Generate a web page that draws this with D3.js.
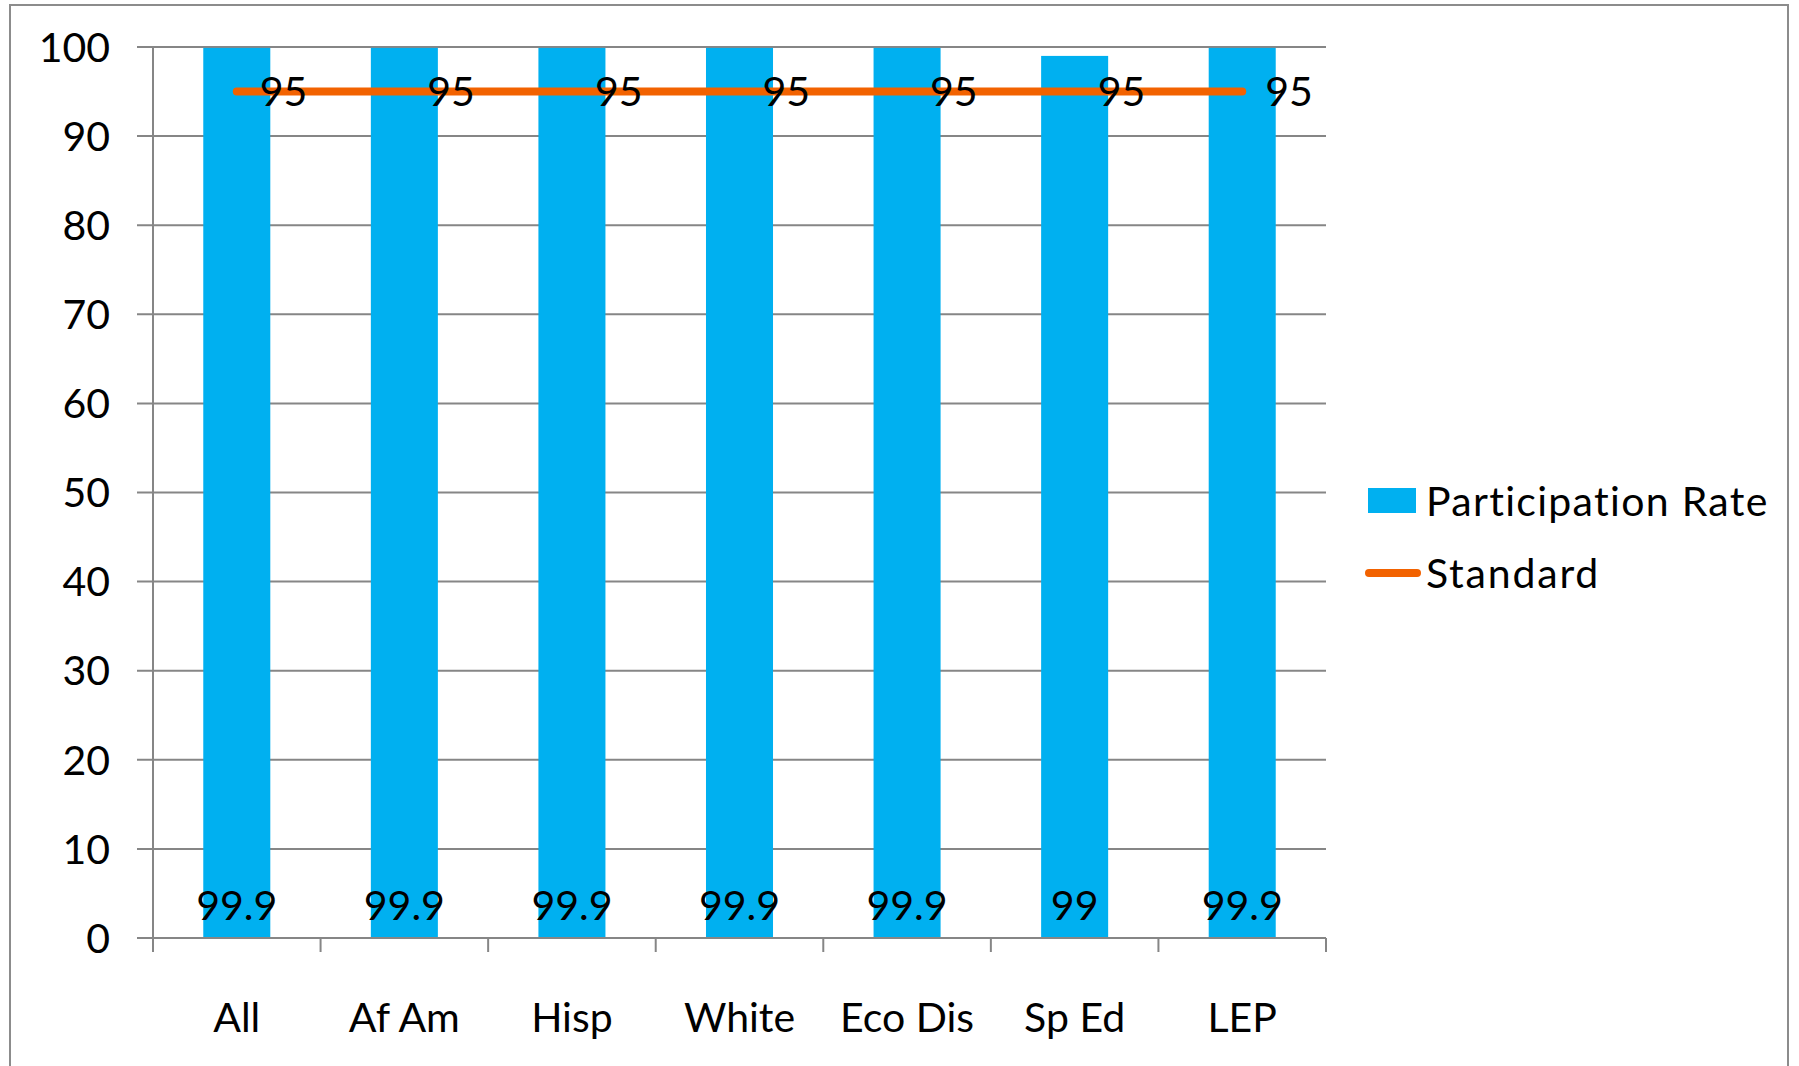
<!DOCTYPE html>
<html>
<head>
<meta charset="utf-8">
<script src="https://cdn.jsdelivr.net/npm/d3@7"></script>
<style>
  body { margin: 0; background: #fff; }
  svg text { font-family: Lato, "Noto Sans", sans-serif; fill: #000; }
</style>
</head>
<body>
<div id="chart"></div>
<script>
'use strict';

const categories = ["All", "Af Am", "Hisp", "White", "Eco Dis", "Sp Ed", "LEP"];
const participation = [99.9, 99.9, 99.9, 99.9, 99.9, 99, 99.9];
const standard = [95, 95, 95, 95, 95, 95, 95];
const yTicks = [0, 10, 20, 30, 40, 50, 60, 70, 80, 90, 100];

const W = 1799, H = 1066;
const plot = { left: 153, right: 1326, top: 47, bottom: 938 };
const barColor = "#00B0F0";
const lineColor = "#F26200";
const gridColor = "#868686";
const fontSize = 41;

const svg = d3.select("#chart").append("svg")
    .attr("width", W)
    .attr("height", H);

// outer chart border
svg.append("rect")
    .attr("x", 10).attr("y", 5)
    .attr("width", 1778).attr("height", 1070)
    .attr("fill", "none")
    .attr("stroke", "#8c8c8c")
    .attr("stroke-width", 2);

const x = d3.scaleBand()
    .domain(categories)
    .range([plot.left, plot.right])
    .padding(0);

const y = d3.scaleLinear()
    .domain([0, 100])
    .range([plot.bottom, plot.top]);

// gridlines + y ticks
svg.append("g")
    .selectAll("line")
    .data(yTicks)
    .join("line")
    .attr("x1", plot.left - 16)
    .attr("x2", plot.right)
    .attr("y1", d => y(d))
    .attr("y2", d => y(d))
    .attr("stroke", gridColor)
    .attr("stroke-width", 2);

svg.append("g")
    .selectAll("text")
    .data(yTicks)
    .join("text")
    .attr("x", 110)
    .attr("y", d => y(d))
    .attr("dy", "0.36em")
    .attr("text-anchor", "end")
    .style("font-size", fontSize + "px")
    .text(d => d);

// y axis line
svg.append("line")
    .attr("x1", plot.left).attr("x2", plot.left)
    .attr("y1", plot.top).attr("y2", plot.bottom + 14)
    .attr("stroke", gridColor)
    .attr("stroke-width", 2);

// x tick marks at category boundaries
const boundaries = categories.map(c => x(c)).concat([x(categories[categories.length - 1]) + x.bandwidth()]);
svg.append("g")
    .selectAll("line")
    .data(boundaries)
    .join("line")
    .attr("x1", d => d).attr("x2", d => d)
    .attr("y1", plot.bottom)
    .attr("y2", plot.bottom + 14)
    .attr("stroke", gridColor)
    .attr("stroke-width", 2);

// bars
const barW = x.bandwidth() * 0.4;
const cx = c => x(c) + x.bandwidth() / 2;

svg.append("g")
    .selectAll("rect")
    .data(categories)
    .join("rect")
    .attr("x", c => cx(c) - barW / 2)
    .attr("width", barW)
    .attr("y", (c, i) => y(participation[i]))
    .attr("height", (c, i) => y(0) - y(participation[i]))
    .attr("fill", barColor);

// redraw x axis line over bars
svg.append("line")
    .attr("x1", plot.left - 16).attr("x2", plot.right)
    .attr("y1", y(0)).attr("y2", y(0))
    .attr("stroke", gridColor)
    .attr("stroke-width", 2);

// bar value labels
svg.append("g")
    .selectAll("text")
    .data(categories)
    .join("text")
    .attr("x", cx)
    .attr("y", y(0) - 18)
    .attr("text-anchor", "middle")
    .style("font-size", fontSize + "px")
    .text((c, i) => participation[i]);

// standard line
svg.append("path")
    .datum(categories)
    .attr("fill", "none")
    .attr("stroke", lineColor)
    .attr("stroke-width", 8)
    .attr("stroke-linecap", "round")
    .attr("d", d3.line()
        .x(c => cx(c))
        .y((c, i) => y(standard[i])));

svg.append("g")
    .selectAll("text")
    .data(categories)
    .join("text")
    .attr("x", c => cx(c) + 23)
    .attr("y", (c, i) => y(standard[i]))
    .attr("dy", "0.36em")
    .style("font-size", fontSize + "px")
    .text((c, i) => standard[i]);

// category labels
svg.append("g")
    .selectAll("text")
    .data(categories)
    .join("text")
    .attr("x", cx)
    .attr("y", 1032)
    .attr("text-anchor", "middle")
    .style("font-size", fontSize + "px")
    .text(c => c);

// legend
const legend = svg.append("g");
legend.append("rect")
    .attr("x", 1368).attr("y", 488)
    .attr("width", 48).attr("height", 25)
    .attr("fill", barColor);
legend.append("text")
    .attr("x", 1426).attr("y", 501)
    .attr("dy", "0.36em")
    .style("font-size", fontSize + "px")
    .style("letter-spacing", "1.3px")
    .text("Participation Rate");
legend.append("line")
    .attr("x1", 1369).attr("x2", 1417)
    .attr("y1", 573).attr("y2", 573)
    .attr("stroke", lineColor)
    .attr("stroke-width", 8)
    .attr("stroke-linecap", "round");
legend.append("text")
    .attr("x", 1426).attr("y", 573)
    .attr("dy", "0.36em")
    .style("font-size", fontSize + "px")
    .style("letter-spacing", "1.8px")
    .text("Standard");
</script>
</body>
</html>
